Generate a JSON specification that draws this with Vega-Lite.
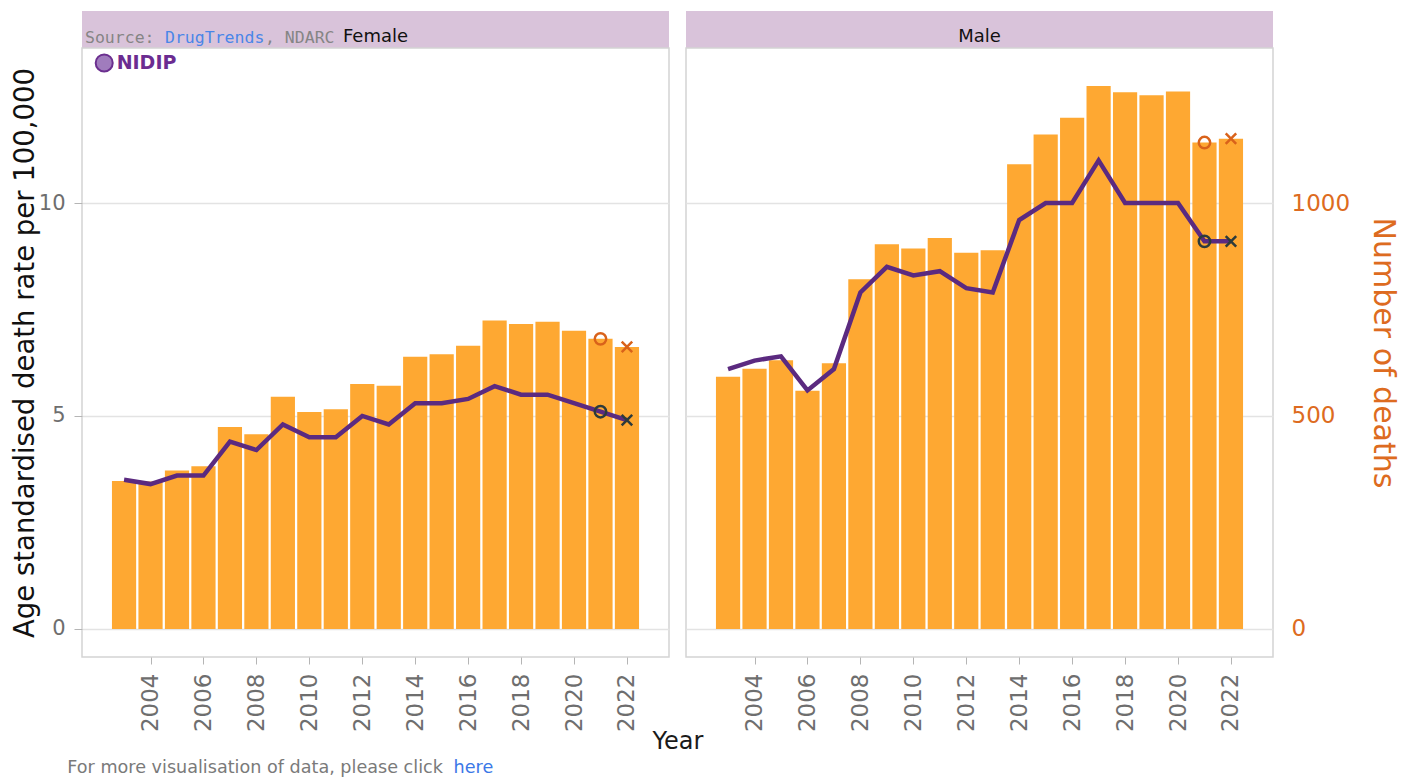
{
  "$schema": "https://vega.github.io/schema/vega-lite/v6.json",
  "autosize": {"type": "pad"},
  "padding": {"left": 10, "top": 11, "right": 12, "bottom": 0},
  "background": "white",
  "columns": 2,
  "spacing": {"row": 0, "column": 17},
  "bounds": "flush",
  "config": {
    "font": "DejaVu Sans",
    "axis": {"labelFont": "DejaVu Sans", "titleFont": "DejaVu Sans", "titleFontWeight": "normal", "domain": false},
    "view": {"stroke": null}
  },
  "datasets": {
    "deaths": [
      {"sex": "Female", "year": 2003, "deaths": 347, "rate": 3.5},
      {"sex": "Female", "year": 2004, "deaths": 346, "rate": 3.4},
      {"sex": "Female", "year": 2005, "deaths": 372, "rate": 3.6},
      {"sex": "Female", "year": 2006, "deaths": 382, "rate": 3.6},
      {"sex": "Female", "year": 2007, "deaths": 474, "rate": 4.4},
      {"sex": "Female", "year": 2008, "deaths": 457, "rate": 4.2},
      {"sex": "Female", "year": 2009, "deaths": 545, "rate": 4.8},
      {"sex": "Female", "year": 2010, "deaths": 509, "rate": 4.5},
      {"sex": "Female", "year": 2011, "deaths": 516, "rate": 4.5},
      {"sex": "Female", "year": 2012, "deaths": 575, "rate": 5.0},
      {"sex": "Female", "year": 2013, "deaths": 571, "rate": 4.8},
      {"sex": "Female", "year": 2014, "deaths": 639, "rate": 5.3},
      {"sex": "Female", "year": 2015, "deaths": 645, "rate": 5.3},
      {"sex": "Female", "year": 2016, "deaths": 665, "rate": 5.4},
      {"sex": "Female", "year": 2017, "deaths": 724, "rate": 5.7},
      {"sex": "Female", "year": 2018, "deaths": 716, "rate": 5.5},
      {"sex": "Female", "year": 2019, "deaths": 721, "rate": 5.5},
      {"sex": "Female", "year": 2020, "deaths": 700, "rate": 5.3},
      {"sex": "Female", "year": 2021, "deaths": 681, "rate": 5.1},
      {"sex": "Female", "year": 2022, "deaths": 662, "rate": 4.9},
      {"sex": "Male", "year": 2003, "deaths": 592, "rate": 6.1},
      {"sex": "Male", "year": 2004, "deaths": 611, "rate": 6.3},
      {"sex": "Male", "year": 2005, "deaths": 631, "rate": 6.4},
      {"sex": "Male", "year": 2006, "deaths": 559, "rate": 5.6},
      {"sex": "Male", "year": 2007, "deaths": 624, "rate": 6.1},
      {"sex": "Male", "year": 2008, "deaths": 821, "rate": 7.9},
      {"sex": "Male", "year": 2009, "deaths": 903, "rate": 8.5},
      {"sex": "Male", "year": 2010, "deaths": 893, "rate": 8.3},
      {"sex": "Male", "year": 2011, "deaths": 918, "rate": 8.4},
      {"sex": "Male", "year": 2012, "deaths": 883, "rate": 8.0},
      {"sex": "Male", "year": 2013, "deaths": 889, "rate": 7.9},
      {"sex": "Male", "year": 2014, "deaths": 1091, "rate": 9.6},
      {"sex": "Male", "year": 2015, "deaths": 1161, "rate": 10.0},
      {"sex": "Male", "year": 2016, "deaths": 1200, "rate": 10.0},
      {"sex": "Male", "year": 2017, "deaths": 1275, "rate": 11.0},
      {"sex": "Male", "year": 2018, "deaths": 1260, "rate": 10.0},
      {"sex": "Male", "year": 2019, "deaths": 1253, "rate": 10.0},
      {"sex": "Male", "year": 2020, "deaths": 1262, "rate": 10.0},
      {"sex": "Male", "year": 2021, "deaths": 1142, "rate": 9.1},
      {"sex": "Male", "year": 2022, "deaths": 1151, "rate": 9.1}
    ]
  },
  "concat": [
    {
      "width": 587, "height": 37,
      "view": {"fill": "#d9c3da", "stroke": null},
      "data": {"values": [{"sex": "Female"}]},
      "layer": [
        {
          "mark": {"type": "text", "fontSize": 18, "color": "#111111", "baseline": "alphabetic", "dy": 12.5},
          "encoding": {"text": {"field": "sex"}}
        },
        {
          "data": {"values": [{"t": "Source: "}]},
          "mark": {"type": "text", "align": "left", "baseline": "alphabetic", "dy": 13, "font": "DejaVu Sans Mono", "fontSize": 16.5, "color": "#858585"},
          "encoding": {"x": {"datum": 2001.711, "type": "quantitative", "scale": {"domain": [2001.6, 2023.4], "nice": false, "zero": false}, "axis": null}, "text": {"field": "t"}}
        },
        {
          "data": {"values": [{"t": "DrugTrends"}]},
          "mark": {"type": "text", "align": "left", "baseline": "alphabetic", "dy": 13, "font": "DejaVu Sans Mono", "fontSize": 16.5, "color": "#4a86e8"},
          "encoding": {"x": {"datum": 2004.682, "type": "quantitative", "axis": null}, "text": {"field": "t"}}
        },
        {
          "data": {"values": [{"t": ", NDARC"}]},
          "mark": {"type": "text", "align": "left", "baseline": "alphabetic", "dy": 13, "font": "DejaVu Sans Mono", "fontSize": 16.5, "color": "#858585"},
          "encoding": {"x": {"datum": 2008.395, "type": "quantitative", "axis": null}, "text": {"field": "t"}}
        }
      ]
    },
    {
      "width": 587, "height": 37,
      "view": {"fill": "#d9c3da", "stroke": null},
      "data": {"values": [{"sex": "Male"}]},
      "mark": {"type": "text", "fontSize": 18, "color": "#111111", "baseline": "alphabetic", "dy": 12.5},
      "encoding": {"text": {"field": "sex"}}
    },
    {
      "width": 587, "height": 609,
      "view": {"stroke": "#d4d4d4", "strokeWidth": 1.5},
      "data": {"name": "deaths"},
      "transform": [{"filter": "datum.sex === 'Female'"}],
      "layer": [
        {
          "layer": [
            {
              "mark": {"type": "bar", "color": "#fea832", "width": 24.2},
              "encoding": {
                "x": {
                  "field": "year", "type": "quantitative",
                  "scale": {"domain": [2001.6, 2023.4], "nice": false, "zero": false},
                  "axis": {
                    "values": [2004, 2006, 2008, 2010, 2012, 2014, 2016, 2018, 2020, 2022],
                    "format": "d", "labelAngle": -90, "labelFontSize": 23, "labelColor": "#6e6e6e",
                    "labelAlign": "right", "labelBaseline": "middle", "labelPadding": 9,
                    "tickSize": 7, "tickColor": "#b5b5b5", "grid": false, "labelFlush": false,
                    "title": "Year", "titleFontSize": 24, "titleColor": "#1a1a1a",
                    "titleX": 595.5, "titleY": 91, "titleAlign": "center", "titleBaseline": "alphabetic", "titleAngle": 0
                  }
                },
                "y": {"field": "deaths", "type": "quantitative", "scale": {"domain": [-66, 1364], "nice": false, "zero": false}, "axis": null}
              }
            },
            {
              "transform": [{"filter": "datum.year === 2021"}],
              "mark": {"type": "point", "shape": "circle", "filled": false, "size": 130, "strokeWidth": 2.5, "color": "#d9621a", "opacity": 1},
              "encoding": {"x": {"field": "year", "type": "quantitative"}, "y": {"field": "deaths", "type": "quantitative"}}
            },
            {
              "transform": [{"filter": "datum.year === 2022"}],
              "mark": {"type": "point", "shape": "M-1,-1L1,1M-1,1L1,-1", "filled": false, "size": 110, "strokeWidth": 2.5, "color": "#d9621a", "opacity": 1},
              "encoding": {"x": {"field": "year", "type": "quantitative"}, "y": {"field": "deaths", "type": "quantitative"}}
            }
          ]
        },
        {
          "layer": [
            {
              "mark": {"type": "line", "color": "#5b2a80", "strokeWidth": 4.5},
              "encoding": {
                "x": {"field": "year", "type": "quantitative"},
                "y": {
                  "field": "rate", "type": "quantitative",
                  "scale": {"domain": [-0.66, 13.64], "nice": false, "zero": false},
                  "axis": {
                    "orient": "left", "values": [0, 5, 10], "grid": true, "gridColor": "#e3e3e3", "gridWidth": 1.5,
                    "tickSize": 8, "tickColor": "#b5b5b5", "labelPadding": 9, "labelFontSize": 21, "labelColor": "#6e6e6e",
                    "title": "Age standardised death rate per 100,000", "titleFontSize": 27.5, "titleColor": "#111111",
                    "titleX": -57, "titleBaseline": "middle", "titleAngle": -90
                  }
                }
              }
            },
            {
              "transform": [{"filter": "datum.year === 2021"}],
              "mark": {"type": "point", "shape": "circle", "filled": false, "size": 130, "strokeWidth": 2.5, "color": "#2d3b3b", "opacity": 1},
              "encoding": {"x": {"field": "year", "type": "quantitative"}, "y": {"field": "rate", "type": "quantitative"}}
            },
            {
              "transform": [{"filter": "datum.year === 2022"}],
              "mark": {"type": "point", "shape": "M-1,-1L1,1M-1,1L1,-1", "filled": false, "size": 110, "strokeWidth": 2.5, "color": "#2d3b3b", "opacity": 1},
              "encoding": {"x": {"field": "year", "type": "quantitative"}, "y": {"field": "rate", "type": "quantitative"}}
            },
            {
              "data": {"values": [{"t": "NIDIP"}]},
              "mark": {"type": "point", "shape": "circle", "filled": true, "size": 290, "color": "#a07cbd", "stroke": "#6b2f8f", "strokeWidth": 2, "opacity": 1},
              "encoding": {"x": {"datum": 2002.25, "type": "quantitative"}, "y": {"datum": 13.29, "type": "quantitative"}}
            },
            {
              "data": {"values": [{"t": "NIDIP"}]},
              "mark": {"type": "text", "align": "left", "baseline": "middle", "fontSize": 19, "fontWeight": "bold", "color": "#6b2c91"},
              "encoding": {"x": {"datum": 2002.72, "type": "quantitative"}, "y": {"datum": 13.29, "type": "quantitative"}, "text": {"field": "t"}}
            },
            {
              "data": {"values": [{"t": "For more visualisation of data, please click "}]},
              "mark": {"type": "text", "align": "left", "baseline": "middle", "fontSize": 17.6, "color": "#7a7a7a"},
              "encoding": {"x": {"datum": 2000.857, "type": "quantitative"}, "y": {"datum": -3.266, "type": "quantitative"}, "text": {"field": "t"}}
            },
            {
              "data": {"values": [{"t": "here"}]},
              "mark": {"type": "text", "align": "left", "baseline": "middle", "fontSize": 17.6, "color": "#3b78e7"},
              "encoding": {"x": {"datum": 2015.45, "type": "quantitative"}, "y": {"datum": -3.266, "type": "quantitative"}, "text": {"field": "t"}}
            }
          ]
        }
      ],
      "resolve": {"scale": {"y": "independent"}}
    },
    {
      "width": 587, "height": 609,
      "view": {"stroke": "#d4d4d4", "strokeWidth": 1.5},
      "data": {"name": "deaths"},
      "transform": [{"filter": "datum.sex === 'Male'"}],
      "layer": [
        {
          "layer": [
            {
              "mark": {"type": "bar", "color": "#fea832", "width": 24.2},
              "encoding": {
                "x": {
                  "field": "year", "type": "quantitative",
                  "scale": {"domain": [2001.6, 2023.4], "nice": false, "zero": false},
                  "axis": {
                    "values": [2004, 2006, 2008, 2010, 2012, 2014, 2016, 2018, 2020, 2022],
                    "format": "d", "labelAngle": -90, "labelFontSize": 23, "labelColor": "#6e6e6e",
                    "labelAlign": "right", "labelBaseline": "middle", "labelPadding": 9,
                    "tickSize": 7, "tickColor": "#b5b5b5", "grid": false, "labelFlush": false,
                    "title": null
                  }
                },
                "y": {
                  "field": "deaths", "type": "quantitative",
                  "scale": {"domain": [-66, 1364], "nice": false, "zero": false},
                  "axis": {
                    "orient": "right", "values": [0, 500, 1000], "format": "d", "grid": false, "ticks": false,
                    "labelPadding": 18, "labelFontSize": 23, "labelColor": "#dd6b20",
                    "title": "Number of deaths", "titleFontSize": 30, "titleColor": "#dd6b20",
                    "titleX": 109, "titleBaseline": "middle", "titleAngle": 90
                  }
                }
              }
            },
            {
              "transform": [{"filter": "datum.year === 2021"}],
              "mark": {"type": "point", "shape": "circle", "filled": false, "size": 130, "strokeWidth": 2.5, "color": "#d9621a", "opacity": 1},
              "encoding": {"x": {"field": "year", "type": "quantitative"}, "y": {"field": "deaths", "type": "quantitative"}}
            },
            {
              "transform": [{"filter": "datum.year === 2022"}],
              "mark": {"type": "point", "shape": "M-1,-1L1,1M-1,1L1,-1", "filled": false, "size": 110, "strokeWidth": 2.5, "color": "#d9621a", "opacity": 1},
              "encoding": {"x": {"field": "year", "type": "quantitative"}, "y": {"field": "deaths", "type": "quantitative"}}
            }
          ]
        },
        {
          "layer": [
            {
              "mark": {"type": "line", "color": "#5b2a80", "strokeWidth": 4.5},
              "encoding": {
                "x": {"field": "year", "type": "quantitative"},
                "y": {
                  "field": "rate", "type": "quantitative",
                  "scale": {"domain": [-0.66, 13.64], "nice": false, "zero": false},
                  "axis": {
                    "orient": "left", "values": [0, 5, 10], "grid": true, "gridColor": "#e3e3e3", "gridWidth": 1.5,
                    "ticks": false, "labels": false, "title": null
                  }
                }
              }
            },
            {
              "transform": [{"filter": "datum.year === 2021"}],
              "mark": {"type": "point", "shape": "circle", "filled": false, "size": 130, "strokeWidth": 2.5, "color": "#2d3b3b", "opacity": 1},
              "encoding": {"x": {"field": "year", "type": "quantitative"}, "y": {"field": "rate", "type": "quantitative"}}
            },
            {
              "transform": [{"filter": "datum.year === 2022"}],
              "mark": {"type": "point", "shape": "M-1,-1L1,1M-1,1L1,-1", "filled": false, "size": 110, "strokeWidth": 2.5, "color": "#2d3b3b", "opacity": 1},
              "encoding": {"x": {"field": "year", "type": "quantitative"}, "y": {"field": "rate", "type": "quantitative"}}
            }
          ]
        }
      ],
      "resolve": {"scale": {"y": "independent"}}
    }
  ]
}
